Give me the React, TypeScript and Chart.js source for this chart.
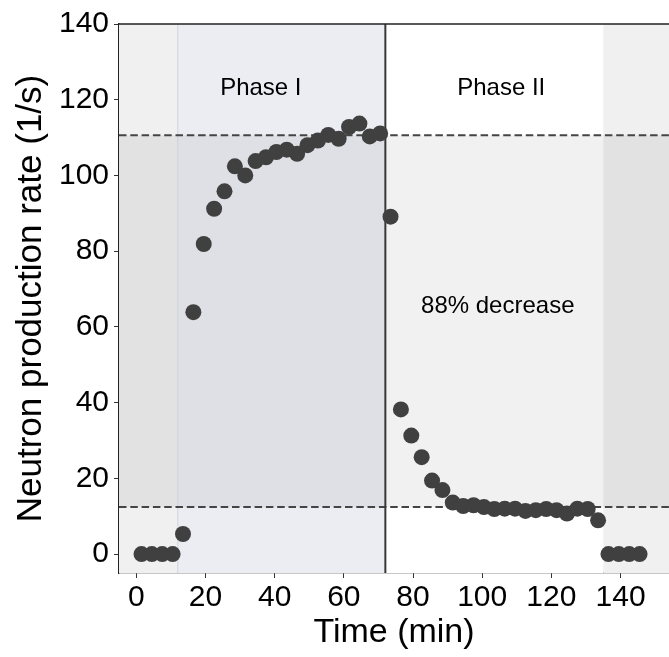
import React, { useEffect, useRef } from "react";
import { Chart, registerables } from "chart.js";

Chart.register(...registerables);

// Sampling times (min) and measured neutron production rate (1/s)
const timeMin = [
  1.5, 4.5, 7.5, 10.5, 13.5, 16.5, 19.5, 22.5, 25.5, 28.5, 31.5, 34.5, 37.5,
  40.5, 43.5, 46.5, 49.5, 52.5, 55.5, 58.5, 61.5, 64.5, 67.5, 70.5, 73.5, 76.5,
  79.5, 82.5, 85.5, 88.5, 91.5, 94.5, 97.5, 100.5, 103.5, 106.5, 109.5, 112.5,
  115.5, 118.5, 121.5, 124.5, 127.5, 130.5, 133.5, 136.5, 139.5, 142.5, 145.5,
];
const rate = [
  0, 0, 0, 0, 5.3, 63.9, 81.9, 91.2, 95.8, 102.4, 100.0, 103.8, 104.8, 106.2,
  106.8, 105.7, 108.0, 109.2, 110.7, 109.7, 112.8, 113.7, 110.3, 111.1, 89.1,
  38.2, 31.3, 25.6, 19.4, 16.9, 13.6, 12.7, 12.9, 12.4, 11.9, 12.0, 12.0, 11.4,
  11.6, 11.9, 11.6, 10.7, 12.0, 11.9, 8.9, 0, 0, 0, 0,
];

const xTicks = [0, 20, 40, 60, 80, 100, 120, 140];
const yTicks = [0, 20, 40, 60, 80, 100, 120, 140];

// Phase boundaries (min): start of phase I, switch to phase II, end of phase II
const phaseEdges = [12, 72, 135];
// Plateau levels (1/s) for the two phases
const plateauLevels = [110.6, 12.4];
const phaseLabels = ["Phase I", "Phase II"];
const phaseLabelPos = [
  [36, 123],
  [105.5, 123],
];
const decreaseLabel = "88% decrease";
const decreaseLabelPos = [104.5, 65.3];

const FONT = "'Liberation Sans', Arial, Helvetica, sans-serif";

const backgroundPlugin = {
  id: "phaseBackground",
  beforeDatasetsDraw(chart: any) {
    const { ctx, chartArea, scales } = chart;
    const xs = scales.x;
    const ys = scales.y;
    const { left, right, top, bottom } = chartArea;
    const px = (v: number) => xs.getPixelForValue(v);
    const py = (v: number) => ys.getPixelForValue(v);
    ctx.save();
    // vertical phase bands
    const bands = [
      [xs.min, phaseEdges[0], "#f0f0f0"],
      [phaseEdges[0], phaseEdges[1], "#ebedf3"],
      [phaseEdges[1], phaseEdges[2], "#ffffff"],
      [phaseEdges[2], xs.max, "#f0f0f0"],
    ] as [number, number, string][];
    for (const [a, b, c] of bands) {
      ctx.fillStyle = c;
      ctx.fillRect(px(a), top, px(b) - px(a), bottom - top);
    }
    // band between the two plateau levels
    ctx.fillStyle = "rgba(0,0,0,0.055)";
    const yTop = py(plateauLevels[0]);
    const yBot = py(plateauLevels[1]);
    ctx.fillRect(left, yTop, right - left, yBot - yTop);

    // phase I start edge
    ctx.strokeStyle = "#cdd2dc";
    ctx.lineWidth = 1;
    ctx.beginPath();
    ctx.moveTo(px(phaseEdges[0]), top);
    ctx.lineTo(px(phaseEdges[0]), bottom);
    ctx.stroke();

    // dashed plateau lines
    ctx.strokeStyle = "#444444";
    ctx.lineWidth = 2;
    ctx.setLineDash([7.5, 3.8]);
    for (const lv of plateauLevels) {
      ctx.beginPath();
      ctx.moveTo(left, py(lv));
      ctx.lineTo(right, py(lv));
      ctx.stroke();
    }
    ctx.setLineDash([]);

    // switch between phases
    ctx.strokeStyle = "#383838";
    ctx.lineWidth = 2;
    ctx.beginPath();
    ctx.moveTo(px(phaseEdges[1]), top);
    ctx.lineTo(px(phaseEdges[1]), bottom);
    ctx.stroke();

    // top frame line
    ctx.strokeStyle = "#222222";
    ctx.lineWidth = 1.3;
    ctx.beginPath();
    ctx.moveTo(left, top);
    ctx.lineTo(right, top);
    ctx.stroke();
    ctx.restore();
  },
  afterDatasetsDraw(chart: any) {
    const { ctx, scales } = chart;
    const px = (v: number) => scales.x.getPixelForValue(v);
    const py = (v: number) => scales.y.getPixelForValue(v);
    ctx.save();
    ctx.fillStyle = "#000000";
    ctx.textAlign = "center";
    ctx.textBaseline = "middle";
    ctx.font = `24px ${FONT}`;
    phaseLabels.forEach((t, i) => {
      ctx.fillText(t, px(phaseLabelPos[i][0]), py(phaseLabelPos[i][1]));
    });
    ctx.fillText(decreaseLabel, px(decreaseLabelPos[0]), py(decreaseLabelPos[1]));
    ctx.restore();
  },
};

export default function App() {
  const canvasRef = useRef<HTMLCanvasElement | null>(null);

  useEffect(() => {
    const canvas = canvasRef.current;
    if (!canvas) return;
    const chart = new Chart(canvas, {
      type: "scatter",
      data: {
        datasets: [
          {
            data: timeMin.map((t, i) => ({ x: t, y: rate[i] })),
            backgroundColor: "#404040",
            borderWidth: 0,
            pointRadius: 8,
            pointHoverRadius: 8,
          },
        ],
      },
      plugins: [backgroundPlugin],
      options: {
        animation: false,
        responsive: false,
        maintainAspectRatio: false,
        layout: {
          autoPadding: false,
          padding: { top: 24, right: 0, left: 0, bottom: 0 },
        },
        plugins: {
          legend: { display: false },
          tooltip: { enabled: false },
        },
        scales: {
          x: {
            type: "linear",
            min: -5,
            max: 154,
            afterBuildTicks: (s: any) => {
              s.ticks = xTicks.map((v) => ({ value: v }));
            },
            afterFit: (s: any) => {
              s.height = 84;
              s.paddingLeft = 0;
              s.paddingRight = 0;
            },
            grid: {
              drawOnChartArea: false,
              drawTicks: true,
              tickLength: 5,
              tickColor: "#333333",
            },
            border: { display: true, color: "#222222", width: 1.3 },
            ticks: {
              color: "#000000",
              font: { family: FONT, size: 30 },
              padding: 2,
              maxRotation: 0,
              autoSkip: false,
            },
            title: {
              display: true,
              text: "Time (min)",
              color: "#000000",
              font: { family: FONT, size: 34, lineHeight: 1 },
              padding: { top: 0, bottom: 7 },
            },
          },
          y: {
            type: "linear",
            min: -5,
            max: 140,
            afterBuildTicks: (s: any) => {
              s.ticks = yTicks.map((v) => ({ value: v }));
            },
            afterFit: (s: any) => {
              s.width = 119;
              s.paddingTop = 0;
              s.paddingBottom = 0;
            },
            grid: {
              drawOnChartArea: false,
              drawTicks: true,
              tickLength: 5,
              tickColor: "#333333",
            },
            border: { display: true, color: "#222222", width: 1.3 },
            ticks: {
              color: "#000000",
              font: { family: FONT, size: 30 },
              padding: 5,
              autoSkip: false,
            },
            title: {
              display: true,
              text: "Neutron production rate (1/s)",
              color: "#000000",
              font: { family: FONT, size: 35, lineHeight: 1 },
              padding: { top: 14, bottom: 0 },
            },
          },
        },
      },
    });
    return () => chart.destroy();
  }, []);

  return (
    <div
      style={{
        position: "fixed",
        left: 0,
        top: 0,
        width: 669,
        height: 657,
        background: "#ffffff",
      }}
    >
      <canvas ref={canvasRef} width={669} height={657} style={{ width: 669, height: 657 }} />
    </div>
  );
}
